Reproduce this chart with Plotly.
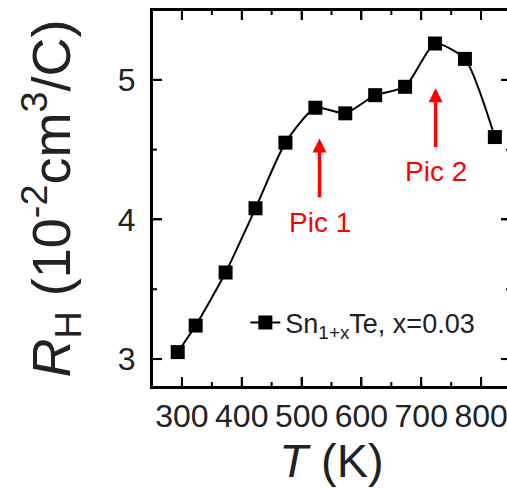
import plotly.graph_objects as go

# Data
T_K = [293, 323, 373, 423, 473, 523, 573, 623, 673, 723, 773, 823]
R_H = [3.05, 3.24, 3.62, 4.08, 4.55, 4.80, 4.76, 4.89, 4.95, 5.26, 5.15, 4.59]
series_name = "Sn<sub>1+x</sub>Te, x=0.03"

x_ticks = [300, 400, 500, 600, 700, 800]
y_ticks = [3, 4, 5]

# arrow annotations: (x, y_tip, label, label_y)
arrows = [
    (530, 4.58, "Pic 1", 3.98),
    (724, 4.94, "Pic 2", 4.34),
]

FONT = "Arial, Liberation Sans, sans-serif"
MAJOR_LEN = 10
MINOR_LEN = 5

fig = go.Figure()
fig.add_trace(go.Scatter(
    x=T_K, y=R_H, mode="lines+markers", name=series_name,
    line=dict(color="black", width=2, shape="spline", smoothing=0.6),
    marker=dict(symbol="square", size=14, color="black"),
))

for ax_x, y_tip, label, ly in arrows:
    fig.add_annotation(
        x=ax_x, y=y_tip, ax=ax_x, ay=ly, xref="x", yref="y",
        axref="x", ayref="y", text=label, showarrow=True,
        arrowhead=2, arrowsize=0.8, arrowwidth=3.5, arrowcolor="#ff0000",
        startstandoff=8,
        font=dict(family=FONT, size=28, color="#ff0000"),
    )

# frame box (all four sides)
fig.add_shape(type="rect", xref="paper", yref="paper", x0=0, x1=1, y0=0, y1=1,
              line=dict(color="black", width=2), layer="above")

tick_line = dict(color="black", width=2)
# x ticks (major + minor midpoints), bottom and top, pointing inward
x_minor = [(a + b) / 2 for a, b in zip(x_ticks[:-1], x_ticks[1:])]
for vals, ln in ((x_ticks, MAJOR_LEN), (x_minor, MINOR_LEN)):
    for v in vals:
        fig.add_shape(type="line", xref="x", yref="paper", x0=v, x1=v,
                      ysizemode="pixel", yanchor=0, y0=0, y1=ln, line=tick_line)
        fig.add_shape(type="line", xref="x", yref="paper", x0=v, x1=v,
                      ysizemode="pixel", yanchor=1, y0=0, y1=-ln, line=tick_line)
# y ticks, left and right, pointing inward
y_minor = [(a + b) / 2 for a, b in zip(y_ticks[:-1], y_ticks[1:])]
for vals, ln in ((y_ticks, MAJOR_LEN), (y_minor, MINOR_LEN)):
    for v in vals:
        fig.add_shape(type="line", xref="paper", yref="y", y0=v, y1=v,
                      xsizemode="pixel", xanchor=0, x0=0, x1=ln, line=tick_line)
        fig.add_shape(type="line", xref="paper", yref="y", y0=v, y1=v,
                      xsizemode="pixel", xanchor=1, x0=0, x1=-ln, line=tick_line)

axis_common = dict(
    showline=True, linecolor="black", linewidth=2, mirror="ticks",
    ticks="inside", ticklen=MAJOR_LEN, tickwidth=2, tickcolor="black",
    showgrid=False, zeroline=False,
    tickfont=dict(family=FONT, size=32, color="#222"),
)

fig.update_xaxes(
    range=[250, 850], tickvals=x_ticks, **axis_common,
    title=dict(text="<i>T</i> (K)", font=dict(family=FONT, size=47, color="#222"), standoff=10),
)
fig.update_yaxes(
    range=[2.8, 5.5], tickvals=y_ticks, ticklabelstandoff=8, **axis_common,
    title=dict(text="<i>R</i><sub>H</sub> (10<sup>-2</sup>cm<sup>3</sup>/C)",
               font=dict(family=FONT, size=54, color="#222"), standoff=30),
)

fig.update_layout(
    width=520, height=489,
    margin=dict(l=152, r=7, t=10, b=102),
    paper_bgcolor="white", plot_bgcolor="white",
    showlegend=True,
    legend=dict(x=0.26, y=0.17, xanchor="left", yanchor="middle",
                bgcolor="rgba(0,0,0,0)", borderwidth=0,
                font=dict(family=FONT, size=27, color="#222")),
)

fig.write_html(
    "out.html",
    config={"displayModeBar": False},
    post_script="document.documentElement.style.overflow='hidden';document.body.style.overflow='hidden';document.body.style.margin='0';",
)
